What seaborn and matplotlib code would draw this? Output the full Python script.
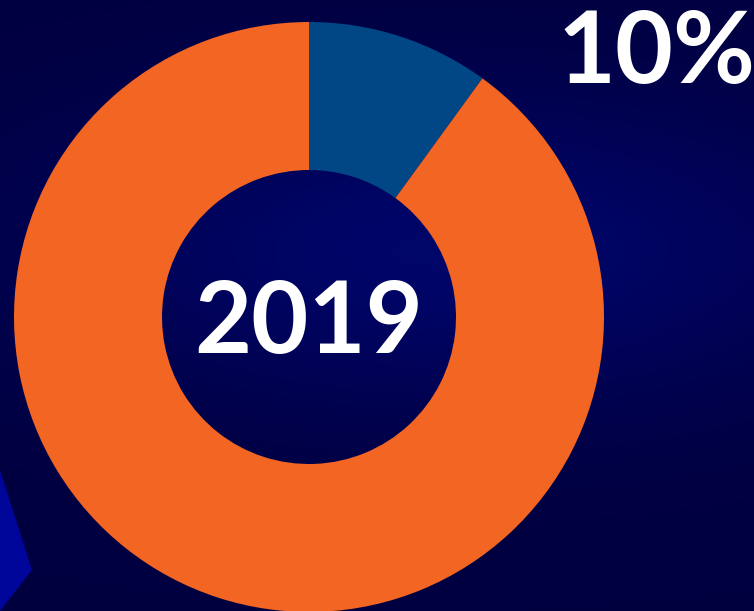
import numpy as np
import matplotlib
matplotlib.use("Agg")
from matplotlib import pyplot as plt
from matplotlib.patches import Polygon
import seaborn as sns

# data
labels = ["Share", "Rest"]
values = [10, 90]
colors = ["#014785", "#F26522"]
year = "2019"
share_label = "10%"

sns.set_theme(style="dark")
plt.rcParams['font.family'] = ['Lato', 'DejaVu Sans']

W, H = 754, 611
fig = plt.figure(figsize=(W / 100, H / 100), dpi=100)
ax = fig.add_axes([0, 0, 1, 1])

# dark navy background with a soft glow in the middle band
yy, xx = np.mgrid[0:H, 0:W]
glow = np.exp(-((yy - 250) / 160.0) ** 2) * np.exp(-((xx - 450) / 420.0) ** 2)
bg = np.zeros((H, W, 3))
bg[..., 2] = 0.25 + 0.16 * glow
bg[..., 1] = 0.02 * glow
ax.imshow(bg, extent=[0, W, 0, H], origin="upper", zorder=0, aspect="auto")
ax.add_patch(Polygon([[0, H - 470], [32, H - 570], [0, H - 611]], closed=True,
                     color="#00069a", zorder=1, lw=0))

ax.pie(values, colors=colors, startangle=90, counterclock=False,
       center=(309, H - 317), radius=295,
       wedgeprops=dict(width=148, linewidth=0), frame=True)

ax.text(309, H - 324, year, color="white", fontsize=71, fontweight="bold",
        ha="center", va="center", zorder=5)
ax.text(656, H - 54, share_label, color="white", fontsize=72, fontweight="bold",
        ha="center", va="center", zorder=5)

ax.set_xlim(0, W)
ax.set_ylim(0, H)
ax.set_aspect("equal")
ax.axis("off")
fig.savefig("out.png", dpi=100)
